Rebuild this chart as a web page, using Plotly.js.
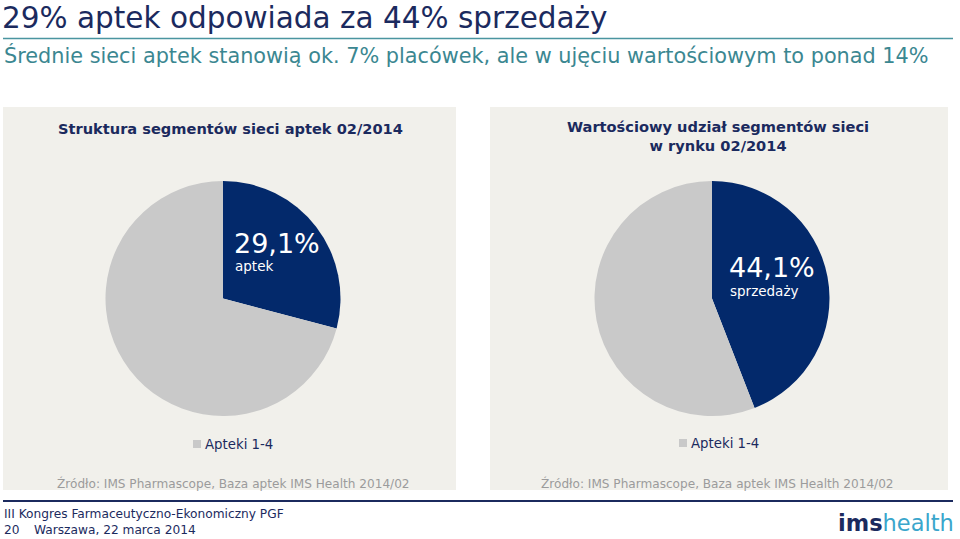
<!DOCTYPE html>
<html>
<head>
<meta charset="utf-8">
<script src="https://cdn.plot.ly/plotly-3.0.1.min.js"></script>
<style>html,body{margin:0;padding:0;background:#fff;}#chart{width:960px;height:539px;}</style>
</head>
<body>
<div id="chart"></div>
<script>
// ---- data ----
const categories = ['Sieci aptek', 'Apteki 1-4'];
const pharmacyShare = [29.1, 70.9];   // Struktura segmentów sieci aptek 02/2014
const salesShare = [44.1, 55.9];      // Wartościowy udział segmentów sieci w rynku 02/2014
const sliceSubLabels = ['aptek', 'sprzedaży'];
const legendLabel = categories[1];
const mainTitle = '29% aptek odpowiada za 44% sprzedaży';
const subTitle = 'Średnie sieci aptek stanowią ok. 7% placówek, ale w ujęciu wartościowym to ponad 14%';
const panelTitles = ['Struktura segmentów sieci aptek 02/2014', 'Wartościowy udział segmentów sieci<br>w rynku 02/2014'];
const sourceText = 'Źródło: IMS Pharmascope, Baza aptek IMS Health 2014/02';
const footer1 = 'III Kongres Farmaceutyczno-Ekonomiczny PGF';
const footerPage = '20';
const footer2 = 'Warszawa, 22 marca 2014';

// ---- helpers (layout only) ----
const W = 960, H = 539;
const px = x => x / W;
const py = y => 1 - y / H;
const NAVY = '#1b2a5e', SLICE = '#03296b', GREY = '#c9c9c9', TEAL = '#3b8791', PANEL = '#f1f0eb';
const FONT = 'DejaVu Sans, Verdana, sans-serif';
const fmt = v => v.toFixed(1).replace('.', ',') + '%';

function pieTrace(values, cx, cy, r) {
  return {
    type: 'pie', labels: categories, values: values, sort: false, direction: 'clockwise', rotation: 0,
    textinfo: 'none', hoverinfo: 'label+percent', showlegend: false,
    marker: {colors: [SLICE, GREY], line: {width: 0}},
    domain: {x: [px(cx - r), px(cx + r)], y: [py(cy + r), py(cy - r)]}
  };
}

const data = [
  pieTrace(pharmacyShare, 223, 298.5, 117.5),
  pieTrace(salesShare, 712, 298.5, 117.5)
];

function ann(text, x, y, opts) {
  return Object.assign({text: text, x: px(x), y: py(y), xref: 'paper', yref: 'paper', showarrow: false,
    xanchor: 'left', yanchor: 'middle', font: {family: FONT, size: 12, color: NAVY}}, opts || {});
}

const annotations = [
  ann(subTitle, 2, 55, {font: {family: FONT, size: 20.8, color: TEAL}}),
  ann('<b>' + panelTitles[0] + '</b>', 230, 128, {xanchor: 'center', font: {family: FONT, size: 14.6, color: NAVY}}),
  ann('<b>' + panelTitles[1] + '</b>', 718, 136, {xanchor: 'center', font: {family: FONT, size: 14.6, color: NAVY}}),
  ann(fmt(pharmacyShare[0]), 232, 243, {font: {family: FONT, size: 27, color: '#ffffff'}}),
  ann(sliceSubLabels[0], 233, 266, {font: {family: FONT, size: 13.5, color: '#ffffff'}}),
  ann(fmt(salesShare[0]), 727, 267, {font: {family: FONT, size: 27, color: '#ffffff'}}),
  ann(sliceSubLabels[1], 728, 291, {font: {family: FONT, size: 13.5, color: '#ffffff'}}),
  ann(legendLabel, 203, 444, {font: {family: FONT, size: 13.3, color: NAVY}}),
  ann(legendLabel, 689, 443, {font: {family: FONT, size: 13.3, color: NAVY}}),
  ann(sourceText, 233, 483, {xanchor: 'center', font: {family: FONT, size: 12.1, color: '#9b9b9b'}}),
  ann(sourceText, 717, 483, {xanchor: 'center', font: {family: FONT, size: 12.1, color: '#9b9b9b'}}),
  ann(footer1, 2, 514, {font: {family: FONT, size: 12.2, color: NAVY}}),
  ann(footerPage, 2, 530, {font: {family: FONT, size: 12.2, color: NAVY}}),
  ann(footer2, 32, 530, {font: {family: FONT, size: 12.2, color: NAVY}}),
  ann('<b>ims</b><span style="color:#3aa6cc">health</span>', 956, 523, {xanchor: 'right', font: {family: FONT, size: 22.5, color: NAVY}})
];

const rect = (x0, y0, x1, y1, color) => ({type: 'rect', xref: 'paper', yref: 'paper', layer: 'below',
  x0: px(x0), x1: px(x1), y0: py(y1), y1: py(y0), fillcolor: color, line: {width: 0}});
const hline = (x0, x1, y, color, w) => ({type: 'line', xref: 'paper', yref: 'paper',
  x0: px(x0), x1: px(x1), y0: py(y), y1: py(y), line: {color: color, width: w}});

const shapes = [
  rect(3, 107, 456, 490, PANEL),
  rect(490, 107, 948, 490, PANEL),
  rect(193, 440, 201, 448, GREY),
  rect(679, 439, 687, 447, GREY),
  hline(3, 953, 38.5, '#4a95a0', 1.5),
  hline(3, 953, 501, NAVY, 2)
];

const layout = {
  width: W, height: H, margin: {l: 0, r: 0, t: 0, b: 0},
  paper_bgcolor: '#ffffff', plot_bgcolor: '#ffffff',
  title: {text: mainTitle, x: px(2), xanchor: 'left', xref: 'paper', y: py(18), yanchor: 'middle', yref: 'container',
    font: {family: FONT, size: 29.5, color: NAVY}},
  showlegend: false, annotations: annotations, shapes: shapes
};

Plotly.newPlot('chart', data, layout, {displayModeBar: false, staticPlot: true});
</script>
</body>
</html>
